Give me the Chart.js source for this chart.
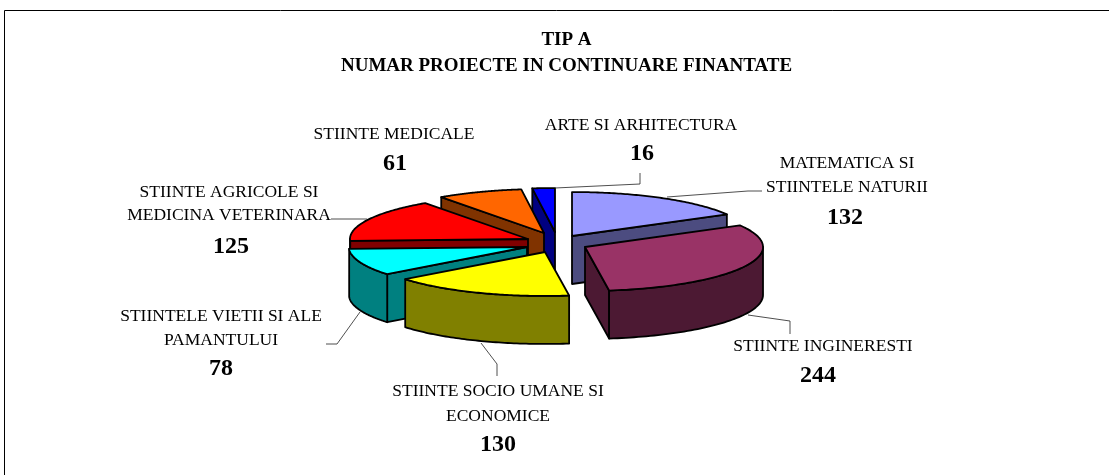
<!DOCTYPE html>
<html>
<head>
<meta charset="utf-8">
<script src="https://cdn.jsdelivr.net/npm/chart.js@4/dist/chart.umd.min.js"></script>
<style>html,body{margin:0;padding:0;background:#fff;overflow:hidden}canvas{display:block}</style>
</head>
<body>
<canvas id="c" width="1109" height="475"></canvas>
<script>
const titleLines = ['TIP A', 'NUMAR PROIECTE IN CONTINUARE FINANTATE'];
const categories = ['MATEMATICA SI STIINTELE NATURII','STIINTE INGINERESTI','STIINTE SOCIO UMANE SI ECONOMICE','STIINTELE VIETII SI ALE PAMANTULUI','STIINTE AGRICOLE SI MEDICINA VETERINARA','STIINTE MEDICALE','ARTE SI ARHITECTURA'];
const values = [132, 244, 130, 78, 125, 61, 16];
const topColors = ['#9999FF','#993366','#FFFF00','#00FFFF','#FF0000','#FF6600','#0000FF'];
const sideColors = ['#4C4C80','#4C1933','#808000','#008080','#800000','#803300','#000080'];

// label layout: wrapped category text, centre x, y of each line, y of the value
const labelLines = [['MATEMATICA SI','STIINTELE NATURII'],['STIINTE INGINERESTI'],['STIINTE SOCIO UMANE SI','ECONOMICE'],['STIINTELE VIETII SI ALE','PAMANTULUI'],['STIINTE AGRICOLE SI','MEDICINA VETERINARA'],['STIINTE MEDICALE'],['ARTE SI ARHITECTURA']];
const labelX = [847, 823, 498, 221, 229, 394, 641];
const lineYs = [[163,187],[346],[391,416],[316,340],[192,215],[134],[125]];
const valueX = [845, 818, 498, 221, 231, 395, 642];
const valueY = [218, 376, 445, 369, 247, 164, 154];
const leaders = [
  [[667,197],[748,191],[762,191]],
  [[748,315],[790,321],[790,334]],
  [[481,343],[497,364],[497,376]],
  [[360,312],[337,344],[326,344]],
  [[331,219],[367,219]],
  [],
  [[555,188],[640,184],[640,173]]
];

// 3D look: hub position, squash, thickness, and each slice's pull-out from the hub
const hubX = 545, hubY = 242, squash = 0.247, depth = 48, pieRadius = 178;
const pullX = [27, 40, 0, -18, -17, -1, 10];
const pullY = [-6, 5, 10, 5, -3, -9, -10];

const norm = a => { const t = Math.PI * 2; return ((a % t) + t) % t; };

const pie3d = {
  id: 'pie3d',
  beforeDatasetsDraw(chart) {
    const ctx = chart.ctx;
    const arcs = chart.getDatasetMeta(0).data;
    const order = arcs.map((_, i) => i).sort((a, b) => pullY[a] - pullY[b]);
    order.forEach(i => {
      const arc = arcs[i];
      const { x, y, startAngle: s, endAngle: e, outerRadius: r } = arc.getProps(['x','y','startAngle','endAngle','outerRadius'], true);
      const tx = hubX + pullX[i], ty = hubY + pullY[i];
      const px = a => tx + r * Math.cos(a);
      const py = (a, z) => ty + squash * r * Math.sin(a) + z;
      ctx.save();
      ctx.lineWidth = 1.8;
      ctx.lineJoin = 'round';
      ctx.strokeStyle = '#000';
      ctx.fillStyle = sideColors[i];
      const quad = a => {
        ctx.beginPath();
        ctx.moveTo(tx, ty); ctx.lineTo(px(a), py(a, 0));
        ctx.lineTo(px(a), py(a, depth)); ctx.lineTo(tx, ty + depth);
        ctx.closePath(); ctx.fill(); ctx.stroke();
      };
      // flat cut faces that turn towards the viewer
      if (Math.sin(s - Math.PI / 2) > 0) quad(s);
      if (Math.sin(e + Math.PI / 2) > 0) quad(e);
      // curved rim: the part of the slice on the front half of the pie
      const lo0 = norm(s), span = e - s;
      [[0, Math.PI], [Math.PI * 2, Math.PI * 3]].forEach(([f0, f1]) => {
        const b0 = Math.max(lo0, f0), b1 = Math.min(lo0 + span, f1);
        if (b1 <= b0) return;
        ctx.beginPath();
        const n = 60;
        for (let k = 0; k <= n; k++) { const a = b0 + (b1 - b0) * k / n; ctx.lineTo(px(a), py(a, 0)); }
        for (let k = n; k >= 0; k--) { const a = b0 + (b1 - b0) * k / n; ctx.lineTo(px(a), py(a, depth)); }
        ctx.closePath(); ctx.fill(); ctx.stroke();
      });
      // top face: the library's arc element, squashed
      ctx.save();
      ctx.translate(tx, ty);
      ctx.scale(1, squash);
      ctx.translate(-x, -y);
      arc.draw(ctx);
      ctx.restore();
      ctx.beginPath();
      ctx.moveTo(tx, ty);
      const n = 80;
      for (let k = 0; k <= n; k++) { const a = s + (e - s) * k / n; ctx.lineTo(px(a), py(a, 0)); }
      ctx.closePath();
      ctx.stroke();
      ctx.restore();
    });
    return false;
  },
  afterDraw(chart) {
    const ctx = chart.ctx;
    ctx.save();
    // chart frame: only its left and top edges fall inside the picture
    ctx.strokeStyle = '#000';
    ctx.lineWidth = 1;
    ctx.beginPath();
    ctx.moveTo(4.5, 475); ctx.lineTo(4.5, 10.5); ctx.lineTo(1109, 10.5);
    ctx.stroke();
    // leader lines
    ctx.lineWidth = 0.8;
    ctx.strokeStyle = '#222';
    leaders.forEach(l => {
      if (!l.length) return;
      ctx.beginPath();
      l.forEach(([a, b], k) => k ? ctx.lineTo(a, b) : ctx.moveTo(a, b));
      ctx.stroke();
    });
    // labels
    ctx.fillStyle = '#000';
    ctx.textAlign = 'center';
    ctx.textBaseline = 'middle';
    labelLines.forEach((lines, i) => {
      ctx.font = "17.5px 'Liberation Serif'";
      lines.forEach((t, k) => ctx.fillText(t, labelX[i], lineYs[i][k]));
      ctx.font = "bold 24px 'Liberation Serif'";
      ctx.fillText(String(values[i]), valueX[i], valueY[i]);
    });
    ctx.restore();
  }
};

new Chart(document.getElementById('c'), {
  type: 'pie',
  data: {
    labels: categories,
    datasets: [{
      data: values,
      backgroundColor: topColors,
      borderWidth: 0,
      radius: pieRadius
    }]
  },
  options: {
    responsive: false,
    animation: false,
    layout: { padding: { left: 24 } },
    plugins: {
      legend: { display: false },
      tooltip: { enabled: false },
      title: {
        display: true,
        text: titleLines,
        color: '#000',
        padding: { top: 27, bottom: 0 },
        font: { family: "'Liberation Serif'", size: 19, weight: 'bold', lineHeight: 1.37 }
      }
    }
  },
  plugins: [pie3d, {
    id: 'bg',
    beforeDraw(chart) {
      chart.ctx.save();
      chart.ctx.fillStyle = '#fff';
      chart.ctx.fillRect(0, 0, chart.width, chart.height);
      chart.ctx.restore();
    }
  }]
});
</script>
</body>
</html>
